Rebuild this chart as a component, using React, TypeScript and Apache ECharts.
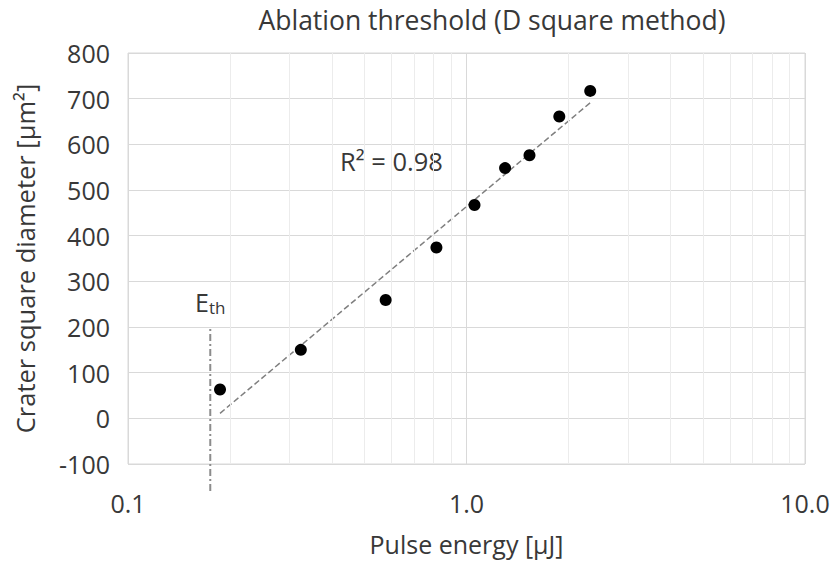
import React, { useEffect, useRef } from "react";
import * as echarts from "echarts";

const pulseEnergy = [0.187, 0.324, 0.577, 0.815, 1.056, 1.3, 1.535, 1.88, 2.32];
const craterD2 = [63, 150, 259, 374, 467, 548, 576, 661, 717];
const trendX = [0.187, 2.32];
const trendY = [11, 691];
const thresholdX = 0.175;
const thresholdYRange = [-159, 200];
const minorXTicks = [0.2, 0.3, 0.4, 0.5, 0.6, 0.7, 0.8, 0.9, 2, 3, 4, 5, 6, 7, 8, 9];
const rSquaredText = "R² = 0.98";
const rSquaredPos = [0.6, 563];

const FONT = "'Open Sans', sans-serif";
const TXT = "#383838";

export default function App() {
  const ref = useRef<HTMLDivElement>(null);
  useEffect(() => {
    if (!ref.current) return;
    const chart = echarts.init(ref.current, undefined, { renderer: "svg" });
    chart.setOption({
      animation: false,
      textStyle: { fontFamily: FONT },
      title: {
        text: "Ablation threshold (D square method)",
        left: 487,
        textAlign: "center",
        top: 1,
        textStyle: { fontFamily: FONT, fontSize: 26.5, fontWeight: "normal", color: TXT },
      },
      grid: {
        left: 128,
        right: 29,
        top: 53,
        bottom: 95,
        show: true,
        borderColor: "#d9d9d9",
        borderWidth: 1,
      },
      xAxis: {
        type: "log",
        logBase: 10,
        min: 0.1,
        max: 10,
        name: "Pulse energy [µJ]",
        nameLocation: "middle",
        nameGap: 67,
        nameTextStyle: { fontFamily: FONT, fontSize: 25, color: TXT },
        axisLine: { show: false },
        axisTick: { show: false },
        axisLabel: {
          fontFamily: FONT,
          fontSize: 25,
          color: TXT,
          margin: 26,
          formatter: (v: number) => v.toFixed(1),
        },
        splitLine: { show: true, lineStyle: { color: "#d9d9d9", width: 1 } },
      },
      yAxis: {
        type: "value",
        min: -100,
        max: 800,
        interval: 100,
        name: "Crater square diameter [µm²]",
        nameLocation: "middle",
        nameGap: 90,
        nameRotate: 90,
        nameTextStyle: { fontFamily: FONT, fontSize: 25.5, color: TXT },
        axisLine: { show: false },
        axisTick: { show: false },
        axisLabel: { fontFamily: FONT, fontSize: 25, color: TXT, margin: 18 },
        splitLine: { show: true, lineStyle: { color: "#d9d9d9", width: 1 } },
      },
      series: [
        {
          type: "line",
          data: [],
          z: 0,
          silent: true,
          markLine: {
            silent: true,
            symbol: "none",
            label: { show: false },
            lineStyle: { color: "#ececec", width: 1, type: "solid" },
            data: minorXTicks.map((v) => ({ xAxis: v })),
          },
        },
        {
          type: "line",
          data: trendX.map((x, i) => [x, trendY[i]]),
          symbol: "none",
          z: 3,
          lineStyle: { color: "#7f7f7f", width: 1.5, type: [6, 3] },
        },
        {
          type: "line",
          clip: false,
          data: thresholdYRange.map((y) => [thresholdX, y]),
          symbol: "none",
          z: 3,
          lineStyle: { color: "#8c8c8c", width: 2, type: [7, 3, 2, 3] },
        },
        {
          type: "scatter",
          data: [[thresholdX, thresholdYRange[1]]],
          symbolSize: 0,
          silent: true,
          itemStyle: { opacity: 1 },
          label: {
            show: true,
            position: "top",
            distance: 11,
            formatter: "{e|E}{s|th}",
            rich: {
              e: { fontFamily: FONT, fontSize: 25, color: TXT },
              s: { fontFamily: FONT, fontSize: 17, color: TXT, verticalAlign: "bottom", padding: [12, 0, 0, 0] },
            },
          },
        },
        {
          type: "scatter",
          data: [rSquaredPos],
          symbolSize: 0,
          silent: true,
          itemStyle: { opacity: 1 },
          label: {
            show: true,
            position: "inside",
            formatter: rSquaredText,
            fontFamily: FONT,
            fontSize: 25.5,
            color: TXT,
          },
        },
        {
          type: "scatter",
          data: pulseEnergy.map((x, i) => [x, craterD2[i]]),
          symbol: "circle",
          symbolSize: 12,
          z: 5,
          itemStyle: { color: "#000000", opacity: 1 },
        },
      ],
    });
    return () => chart.dispose();
  }, []);
  return <div ref={ref} style={{ width: 834, height: 561, position: "absolute", left: 0, top: 0 }} />;
}
